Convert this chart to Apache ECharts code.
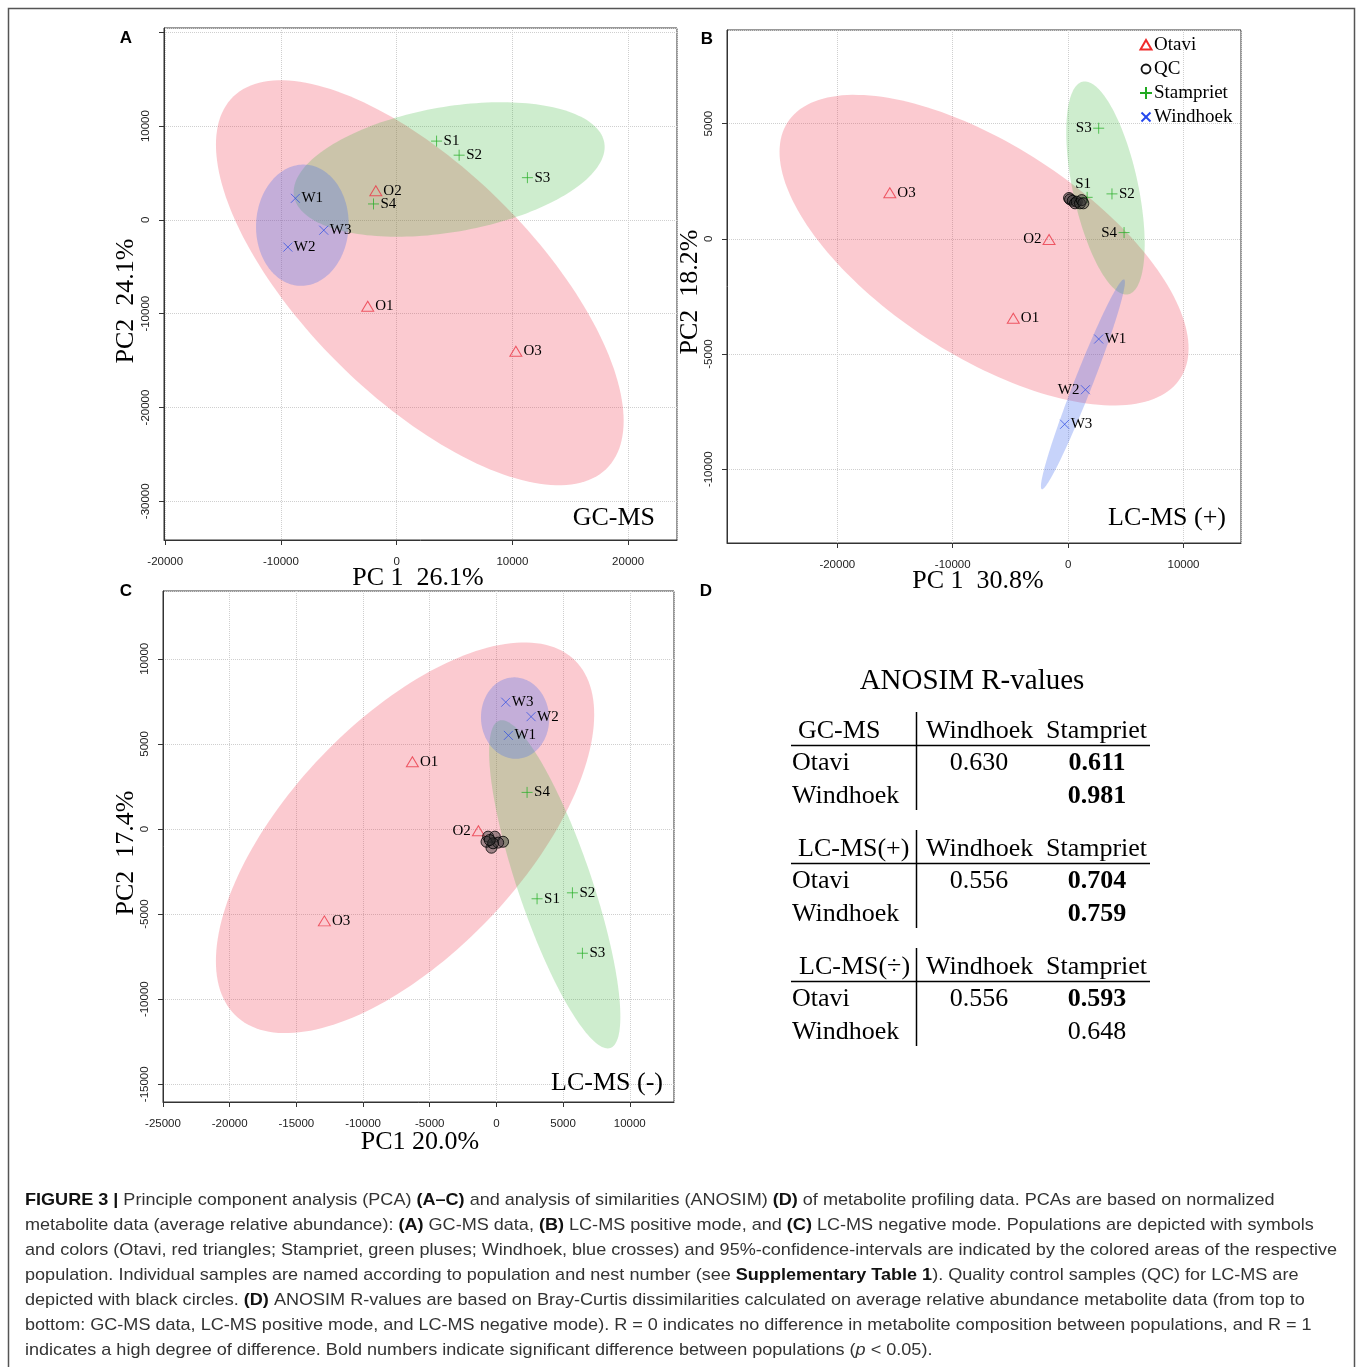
<!DOCTYPE html>
<html><head><meta charset="utf-8">
<script src="https://cdn.jsdelivr.net/npm/echarts@6/dist/echarts.min.js"></script>
<style>html,body{margin:0;padding:0;background:#fff}#c{width:1358px;height:1367px}</style>
</head><body><div id="c"></div>
<script>
// ---------- DATA ----------
// Panel A: GC-MS  [name, PC1, PC2]
const gcOtavi      = [['O1',-2500,-9200],['O2',-1800,3100],['O3',10300,-14000]];
const gcStampriet  = [['S1',3450,8400],['S2',5400,6900],['S3',11300,4500],['S4',-2000,1700]];
const gcWindhoek   = [['W1',-8750,2300],['W2',-9400,-2900],['W3',-6300,-1100]];
// Panel B: LC-MS (+)
const lcpOtavi     = [['O1',-4750,-3450],['O2',-1650,-30],['O3',-15450,2000]];
const lcpStampriet = [['S1',1650,1800],['S2',3800,1950],['S3',2650,4800],['S4',4850,270]];
const lcpWindhoek  = [['W1',2650,-4350],['W2',1500,-6550],['W3',-300,-8050]];
const lcpQC        = [[80,1770],[170,1710],[400,1650],[600,1540],[750,1610],[1030,1540],[1180,1680],[1320,1540]];
// Panel C: LC-MS (-)
const lcnOtavi     = [['O1',-6300,3950],['O2',-1350,-100],['O3',-12900,-5400]];
const lcnStampriet = [['S1',3050,-4100],['S2',5700,-3750],['S3',6450,-7300],['S4',2300,2150]];
const lcnWindhoek  = [['W1',900,5500],['W2',2600,6600],['W3',700,7450]];
const lcnQC        = [[-620,-450],[-120,-450],[500,-750],[-370,-1100],[-740,-750],[130,-800],[-250,-840],[-500,-650]];

const panelTitles = ['GC-MS','LC-MS (+)','LC-MS (-)'];
const xTitles = ['PC 1  26.1%','PC 1  30.8%','PC1 20.0%'];
const yTitles = ['PC2  24.1%','PC2  18.2%','PC2  17.4%'];
const legendNames = ['Otavi','QC','Stampriet','Windhoek'];

// Panel D: ANOSIM R-values
const anosimBlocks = ['GC-MS','LC-MS(+)','LC-MS(÷)'];
const anosimCols = ['Windhoek','Stampriet'];
const anosimRowNames = ['Otavi','Windhoek'];
const rOtaviWindhoek     = [0.630, 0.556, 0.556];
const rOtaviStampriet    = [0.611, 0.704, 0.593];
const rWindhoekStampriet = [0.981, 0.759, 0.648];
const sigOtaviWindhoek     = [false,false,false];
const sigOtaviStampriet    = [true,true,true];
const sigWindhoekStampriet = [true,true,false];

const captionLines = [
 '{b|FIGURE 3 |} Principle component analysis (PCA) {b|(A–C)} and analysis of similarities (ANOSIM) {b|(D)} of metabolite profiling data. PCAs are based on normalized',
 'metabolite data (average relative abundance): {b|(A)} GC-MS data, {b|(B)} LC-MS positive mode, and {b|(C)} LC-MS negative mode. Populations are depicted with symbols',
 'and colors (Otavi, red triangles; Stampriet, green pluses; Windhoek, blue crosses) and 95%-confidence-intervals are indicated by the colored areas of the respective',
 'population. Individual samples are named according to population and nest number (see {b|Supplementary Table 1}). Quality control samples (QC) for LC-MS are',
 'depicted with black circles. {b|(D)} ANOSIM R-values are based on Bray-Curtis dissimilarities calculated on average relative abundance metabolite data (from top to',
 'bottom: GC-MS data, LC-MS positive mode, and LC-MS negative mode). R = 0 indicates no difference in metabolite composition between populations, and R = 1',
 'indicates a high degree of difference. Bold numbers indicate significant difference between populations ({i|p} < 0.05).'
];

// ---------- STYLE / LAYOUT ----------
const SERIF = '"Liberation Serif", "Times New Roman", serif';
const SANS = '"Liberation Sans", Arial, sans-serif';
const grids = [
  {left:164, top:28, width:513, height:512},
  {left:727, top:30, width:514, height:513},
  {left:163, top:591, width:511, height:511}
];
const ranges = [
  {x:[-20104,24226], y:[-34126,20458]},
  {x:[-29558,14982], y:[-13203,9063]},
  {x:[-25000,13318], y:[-16040,13983], xInterval:5000}
];
const labelPos = [
  {},
  {O2:'left', S3:'left', S1:'top', S4:'left', W2:'left'},
  {O2:'left'}
];
const fillCol = {O:'rgba(240,60,80,0.27)', S:'rgba(50,180,50,0.24)', W:'rgba(70,110,240,0.30)'};
const ptCol = {O:'rgba(235,55,70,0.8)', S:'rgba(40,175,40,0.75)', W:'rgba(50,80,225,0.75)'};
const SYM = {
  O:'path://M5,0L10,8.66L0,8.66Z',
  S:'path://M0,5L10,5M5,0L5,10',
  W:'path://M0,0L10,10M10,0L0,10'
};
const SYMSIZE = {O:[12,10], S:[11,11], W:[9,9]};

const K95 = Math.sqrt(5.991464547107979);
function ellipse(pts){
  const n = pts.length; let mx=0,my=0;
  pts.forEach(p=>{mx+=p[1];my+=p[2];}); mx/=n; my/=n;
  let sxx=0,syy=0,sxy=0;
  pts.forEach(p=>{const dx=p[1]-mx,dy=p[2]-my; sxx+=dx*dx; syy+=dy*dy; sxy+=dx*dy;});
  sxx/=(n-1); syy/=(n-1); sxy/=(n-1);
  const a=Math.sqrt(sxx), b=sxy/a, c=Math.sqrt(Math.max(syy-b*b,0));
  const out=[];
  for(let i=0;i<180;i++){const t=2*Math.PI*i/180; out.push([mx+K95*a*Math.cos(t), my+K95*(b*Math.cos(t)+c*Math.sin(t))]);}
  return {center:[mx,my], poly:out};
}

const panels = [
  {O:gcOtavi, S:gcStampriet, W:gcWindhoek, QC:null},
  {O:lcpOtavi, S:lcpStampriet, W:lcpWindhoek, QC:lcpQC},
  {O:lcnOtavi, S:lcnStampriet, W:lcnWindhoek, QC:lcnQC}
];

const xAxes = [], yAxes = [], series = [];
panels.forEach((p, i) => {
  const r = ranges[i];
  xAxes.push({
    gridIndex:i, type:'value', min:r.x[0], max:r.x[1], interval:r.xInterval,
    axisLine:{show:true, onZero:false, lineStyle:{color:'#333', width:1}},
    axisTick:{show:true, length:5, lineStyle:{color:'#333'}},
    axisLabel:{fontFamily:SANS, fontSize:11.5, color:'#222', margin:16,
      showMinLabel: i===2, showMaxLabel:false, formatter: v => String(v)},
    splitLine:{show:true, lineStyle:{type:'dotted', color:'#cfcfcf', width:1}}
  });
  yAxes.push({
    gridIndex:i, type:'value', min:r.y[0], max:r.y[1],
    axisLine:{show:true, onZero:false, lineStyle:{color:'#333', width:1}},
    axisTick:{show:true, length:5, lineStyle:{color:'#333'}},
    axisLabel:{fontFamily:SANS, fontSize:11.5, color:'#222', margin:12, rotate:90,
      showMinLabel:false, showMaxLabel:false,
      formatter: v => (i===0 && v===20000) ? '' : String(v)},
    splitLine:{show:true, lineStyle:{type:'dotted', color:'#cfcfcf', width:1}}
  });
  ['O','S','W'].forEach(g => {
    const e = ellipse(p[g]);
    series.push({
      type:'custom', xAxisIndex:i, yAxisIndex:i, clip:true, silent:true, z:1,
      data:[e.center],
      renderItem:(params, api) => ({
        type:'polygon',
        shape:{points:e.poly.map(q => api.coord(q))},
        style:{fill:fillCol[g]}
      })
    });
  });
  ['O','S','W'].forEach(g => {
    series.push({
      type:'scatter', xAxisIndex:i, yAxisIndex:i, z:4, silent:true,
      symbol:SYM[g], symbolSize:SYMSIZE[g], symbolKeepAspect:false,
      itemStyle:{color:'transparent', borderColor:ptCol[g], borderWidth:1, opacity:1},
      label:{show:true, formatter:'{b}', position:'right', distance:1,
        fontFamily:SERIF, fontSize:15, color:'#000'},
      data:p[g].map(d => {
        const pos = labelPos[i][d[0]];
        const o = {name:d[0], value:[d[1], d[2]]};
        if (pos) o.label = {position:pos, distance:pos==='top'?0:1, offset: pos==='top'?[-4,0]:[0,0]};
        return o;
      })
    });
  });
  if (p.QC) {
    series.push({
      type:'scatter', xAxisIndex:i, yAxisIndex:i, z:5, silent:true,
      symbol:'circle', symbolSize:11,
      itemStyle:{color:'rgba(45,45,45,0.55)', borderColor:'#000', borderWidth:1},
      data:p.QC
    });
  }
});

// ---------- GRAPHICS (texts, legend, table, caption) ----------
const G = [];
function txt(x, y, text, font, opts={}) {
  G.push(Object.assign({type:'text', x, y, silent:true, z:10,
    style:Object.assign({text, font, fill:'#000', textAlign:'left', textVerticalAlign:'middle'}, opts.style||{})},
    opts.el||{}));
}
// outer frame
G.push({type:'rect', silent:true, z:0, shape:{x:8.5, y:8.5, width:1346, height:1400},
  style:{fill:'none', stroke:'#555', lineWidth:1.5}});
// panel letters
[['A',126,38],['B',707,39],['C',126,591],['D',706,591]].forEach(l =>
  txt(l[1], l[2], l[0], 'bold 17px '+SANS, {style:{textAlign:'center'}}));
// panel titles
txt(655, 518, panelTitles[0], '26px '+SERIF, {style:{textAlign:'right'}});
txt(1226, 518, panelTitles[1], '26px '+SERIF, {style:{textAlign:'right'}});
txt(663, 1083, panelTitles[2], '26px '+SERIF, {style:{textAlign:'right'}});
// axis titles
[[418,578],[978,581],[420,1142]].forEach((c,i) =>
  txt(c[0], c[1], xTitles[i], '26px '+SERIF, {style:{textAlign:'center'}}));
[[126,301],[690,292],[126,853]].forEach((c,i) =>
  txt(c[0], c[1], yTitles[i], '26px '+SERIF, {style:{textAlign:'center'}, el:{rotation:Math.PI/2}}));
// legend (panel B)
const legY = [45,69,93,117], legX = 1146;
G.push({type:'polygon', silent:true, z:10, shape:{points:[[legX,legY[0]-5],[legX+5.5,legY[0]+4.5],[legX-5.5,legY[0]+4.5]]},
  style:{fill:'none', stroke:'#f02a2a', lineWidth:2}});
G.push({type:'circle', silent:true, z:10, shape:{cx:legX, cy:legY[1], r:4.5}, style:{fill:'none', stroke:'#111', lineWidth:1.8}});
G.push({type:'line', silent:true, z:10, shape:{x1:legX-6,y1:legY[2],x2:legX+6,y2:legY[2]}, style:{stroke:'#22aa22', lineWidth:2}});
G.push({type:'line', silent:true, z:10, shape:{x1:legX,y1:legY[2]-6,x2:legX,y2:legY[2]+6}, style:{stroke:'#22aa22', lineWidth:2}});
G.push({type:'line', silent:true, z:10, shape:{x1:legX-4.5,y1:legY[3]-4.5,x2:legX+4.5,y2:legY[3]+4.5}, style:{stroke:'#2448ee', lineWidth:2}});
G.push({type:'line', silent:true, z:10, shape:{x1:legX+4.5,y1:legY[3]-4.5,x2:legX-4.5,y2:legY[3]+4.5}, style:{stroke:'#2448ee', lineWidth:2}});
legendNames.forEach((n,k) => txt(1154, legY[k], n, '19px '+SERIF));

// ANOSIM table
txt(972, 681, 'ANOSIM R-values', '29px '+SERIF, {style:{textAlign:'center'}});
const TF = '26px '+SERIF, TFB = 'bold 26px '+SERIF;
anosimBlocks.forEach((b, k) => {
  const y0 = 731 + k*118;
  txt(k===2?799:798, y0, b, TF);
  txt(926, y0, anosimCols[0], TF);
  txt(1046, y0, anosimCols[1], TF);
  txt(792, y0+32, anosimRowNames[0], TF);
  txt(792, y0+65, anosimRowNames[1], TF);
  txt(979, y0+32, rOtaviWindhoek[k].toFixed(3), sigOtaviWindhoek[k]?TFB:TF, {style:{textAlign:'center'}});
  txt(1097, y0+32, rOtaviStampriet[k].toFixed(3), sigOtaviStampriet[k]?TFB:TF, {style:{textAlign:'center'}});
  txt(1097, y0+65, rWindhoekStampriet[k].toFixed(3), sigWindhoekStampriet[k]?TFB:TF, {style:{textAlign:'center'}});
  G.push({type:'line', silent:true, z:10, shape:{x1:791, y1:y0+14.5, x2:1150, y2:y0+14.5}, style:{stroke:'#000', lineWidth:1.5}});
  G.push({type:'line', silent:true, z:10, shape:{x1:916.5, y1:y0-19, x2:916.5, y2:y0+79}, style:{stroke:'#000', lineWidth:1.5}});
});

// caption
const cv = document.createElement('canvas').getContext('2d');
cv.font = '17px ' + SANS;
const capScale = 1312 / cv.measureText(captionLines[2]).width;
captionLines.forEach((l, k) => {
  G.push({type:'text', x:25, y:1200 + k*25, scaleX:capScale, silent:true, z:10,
    style:{text:l, fontSize:17, fontFamily:SANS, fill:'#333', textAlign:'left', textVerticalAlign:'middle',
      rich:{
        b:{fontSize:17, fontFamily:SANS, fontWeight:'bold', fill:'#111'},
        i:{fontSize:17, fontFamily:SANS, fontStyle:'italic', fill:'#333'}
      }}});
});

const chart = echarts.init(document.getElementById('c'), null, {renderer:'canvas'});
chart.setOption({
  animation:false,
  backgroundColor:'#fff',
  grid: grids.map(g => Object.assign({show:true, borderColor:'#333', borderWidth:1, backgroundColor:'transparent', containLabel:false}, g)),
  xAxis:xAxes, yAxis:yAxes, series, graphic:G
});
</script></body></html>
